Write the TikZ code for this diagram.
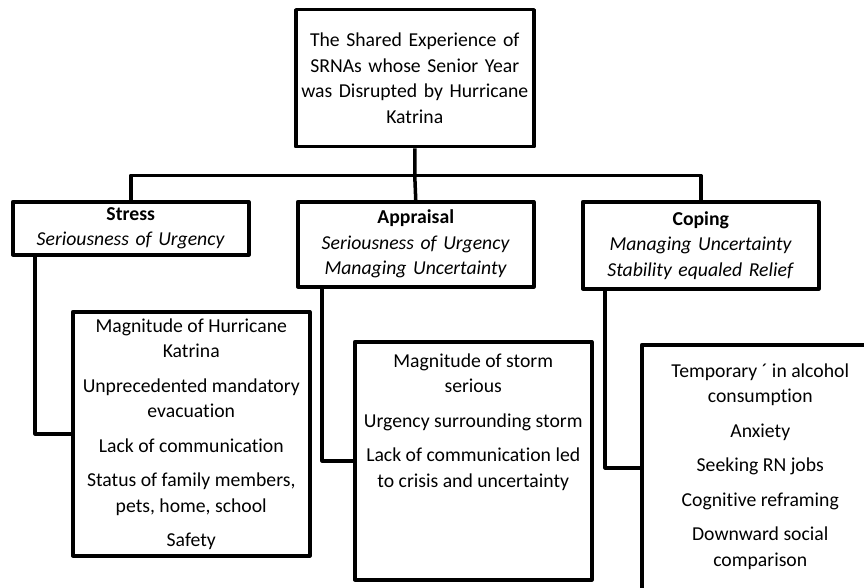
\documentclass[tikz,border=0pt]{standalone}
\usepackage{fontspec}
\setmainfont{Carlito}[Ligatures=NoCommon]
\usetikzlibrary{positioning}
\tikzset{frame/.style={draw, line width=3.5pt, line join=round, anchor=north west, inner sep=0pt},
         head node/.style={frame, minimum width=236pt, text width=228pt, align=center},
         link/.style={line width=3.5pt, line join=round},}
\newcommand{\itembox}[3]{\parbox[c][#1][t]{237pt}{\centering\vspace*{#2}#3}}

\begin{document}
\begin{tikzpicture}[x=1pt, y=-1pt, font=\fontsize{19.7}{25.5}\selectfont]
        \useasboundingbox (0,0) rectangle (864,588);
        \clip (0,0) rectangle (864,588);

        \node[head node, minimum width=238pt, minimum height=137pt] (shared) at (294,8)
            {The Shared Experience of\\SRNAs whose Senior Year\\was Disrupted by Hurricane\\Katrina};
        \node[head node, minimum height=53pt] (stress) at (11,200)
            {\textbf{Stress}\\\textit{Seriousness of Urgency}};
        \node[head node, minimum height=85pt] (appraisal) at (296,200)
            {\textbf{Appraisal}\\\textit{Seriousness of Urgency}\\\textit{Managing Uncertainty}};
        \node[head node, minimum height=87pt] (coping) at (581,200)
            {\textbf{Coping}\\\textit{Managing Uncertainty}\\\textit{Stability equaled Relief}};

        \node[frame] (stressitems) at (71,310) {\itembox{244pt}{7pt}{Magnitude of Hurricane\\Katrina\\[9pt]
            Unprecedented mandatory\\evacuation\\[9pt]Lack of communication\\[9pt]
            Status of family members,\\pets, home, school\\[9pt]Safety}};
        \node[frame] (appraisalitems) at (353,340) {\itembox{238pt}{12pt}{Magnitude of storm\\serious\\[9pt]
            Urgency surrounding storm\\[9pt]Lack of communication led\\to crisis and uncertainty}};
        \node[frame] (copingitems) at (640,343) {\itembox{246pt}{19pt}{Temporary ´ in alcohol\\consumption\\[9pt]
            Anxiety\\[9pt]Seeking RN jobs\\[9pt]Cognitive reframing\\[9pt]Downward social\\comparison}};

        \coordinate (hub) at ([yshift=-27pt]shared.south);
        \draw[link] (shared.south) -- (hub) -- (appraisal.north);
        \draw[link] (stress.north) |- (hub) -| (coping.north);
        \draw[link] ([xshift=24pt]stress.south west) |- (stressitems.west);
        \draw[link] ([xshift=26pt]appraisal.south west) |- (appraisalitems.west);
        \draw[link] ([xshift=24pt]coping.south west) |- (copingitems.west);
    \end{tikzpicture}
\end{document}
